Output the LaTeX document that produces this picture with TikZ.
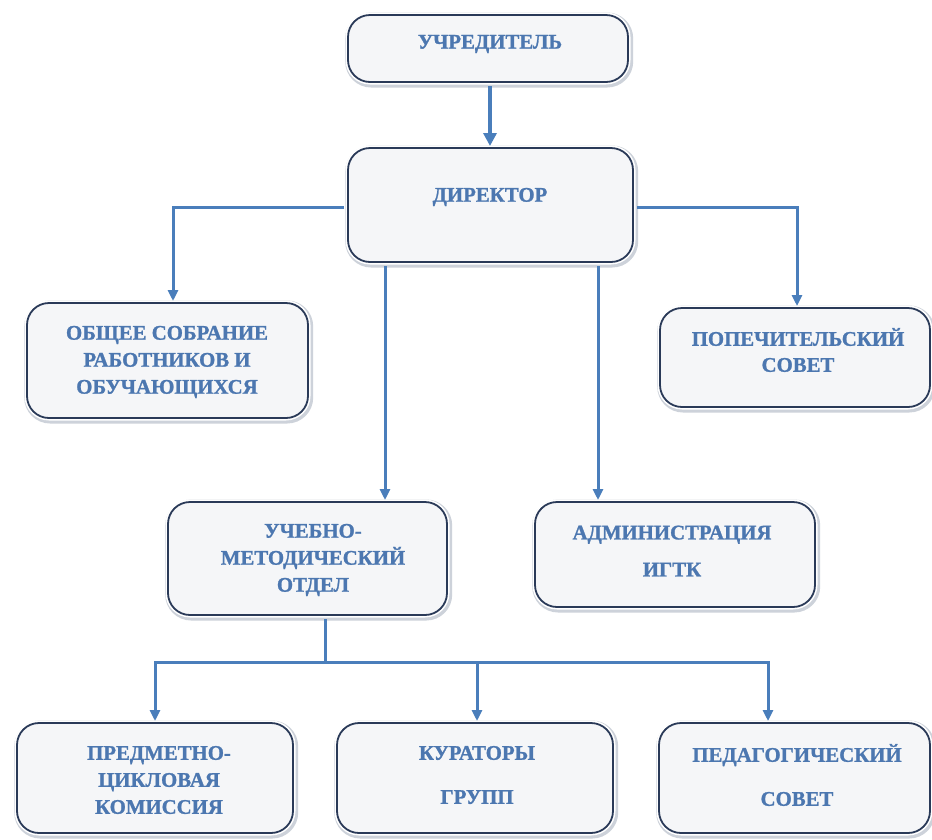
\documentclass[tikz,border=0pt]{standalone}
\usepackage{fontspec}
\setmainfont{Liberation Serif}[BoldFeatures={FakeBold=1.2}]
\usetikzlibrary{arrows.meta}
\definecolor{txtblue}{HTML}{4C77B0}
\definecolor{lineblue}{HTML}{4A7EBB}
\definecolor{boxedge}{HTML}{2A3A58}
\definecolor{boxfill}{HTML}{F5F6F8}
\definecolor{halo}{HTML}{CDD2DA}
\tikzset{
  orgbox/.style={draw=boxedge, line width=1.8pt, fill=boxfill, rounded corners=22pt,
    preaction={draw=halo, line width=8pt, transform canvas={shift={(1.2pt,-1.5pt)}}},
    preaction={draw=white, line width=5pt}},
  lbl/.style={text=txtblue, font=\fontsize{20.8}{28}\selectfont\bfseries, align=center, inner sep=0pt},
  conn/.style={draw=lineblue, line width=3pt, -{Triangle[length=11pt,width=10pt]}},
  plainconn/.style={draw=lineblue, line width=3pt}
}
\begin{document}
\begin{tikzpicture}[x=1pt,y=-1pt]
\useasboundingbox[fill=white] (0,0) rectangle (932,839);
% boxes
\draw[orgbox] (348,15) rectangle (628,82);
\node[lbl] (uchr) at (490,44) {УЧРЕДИТЕЛЬ};
\coordinate (uchrB) at (490,86);

\draw[orgbox] (348,148) rectangle (633,262);
\node[lbl] (dir) at (490,197) {ДИРЕКТОР};
\coordinate (dirT) at (490,146);
\coordinate (dirL) at (344,207);
\coordinate (dirR) at (637,207);
\coordinate (dirB1) at (385,266);
\coordinate (dirB2) at (598,266);

\draw[orgbox] (27,303) rectangle (308,418);
\node[lbl, font=\fontsize{20.8}{27}\selectfont\bfseries] (obsh) at (167,362) {ОБЩЕЕ СОБРАНИЕ\\РАБОТНИКОВ И\\ОБУЧАЮЩИХСЯ};
\coordinate (obshT) at (173,301);

\draw[orgbox] (660,308) rectangle (930,407);
\node[lbl, font=\fontsize{20.8}{26}\selectfont\bfseries] (pop) at (798,350) {ПОПЕЧИТЕЛЬСКИЙ\\СОВЕТ};
\coordinate (popT) at (797,306);

\draw[orgbox] (168,502) rectangle (447,615);
\node[lbl, font=\fontsize{20.8}{27}\selectfont\bfseries] (umo) at (313,560) {УЧЕБНО-\\МЕТОДИЧЕСКИЙ\\ОТДЕЛ};
\coordinate (umoT) at (385,500);
\coordinate (umoB) at (325,619);

\draw[orgbox] (535,502) rectangle (815,607);
\node[lbl, font=\fontsize{20.8}{37}\selectfont\bfseries] (adm) at (672,551) {АДМИНИСТРАЦИЯ\\ИГТК};
\coordinate (admT) at (598,500);

\draw[orgbox] (17,723) rectangle (293,833);
\node[lbl, font=\fontsize{20.8}{27}\selectfont\bfseries] (pck) at (159,780) {ПРЕДМЕТНО-\\ЦИКЛОВАЯ\\КОМИССИЯ};
\coordinate (pckT) at (155,721);

\draw[orgbox] (337,723) rectangle (613,833);
\node[lbl, font=\fontsize{20.8}{44}\selectfont\bfseries] (kur) at (477,775) {КУРАТОРЫ\\ГРУПП};
\coordinate (kurT) at (477,721);

\draw[orgbox] (659,723) rectangle (930,833);
\node[lbl, font=\fontsize{20.8}{44}\selectfont\bfseries] (ped) at (797,775) {ПЕДАГОГИЧЕСКИЙ\\СОВЕТ};
\coordinate (pedT) at (768,721);

% connectors
\draw[conn, line width=4.5pt, -{Triangle[length=13pt,width=13pt]}] (uchrB) -- (dirT);
\draw[conn] (dirL) -| (obshT);
\draw[conn] (dirR) -| (popT);
\draw[conn] (dirB1) -- (umoT);
\draw[conn] (dirB2) -- (admT);
\coordinate (bus) at (325,662);
\draw[plainconn] (umoB) -- (bus);
\draw[conn] (bus) -| (pckT);
\draw[conn] (bus) -| (kurT);
\draw[conn] (bus) -| (pedT);
\end{tikzpicture}
\end{document}
